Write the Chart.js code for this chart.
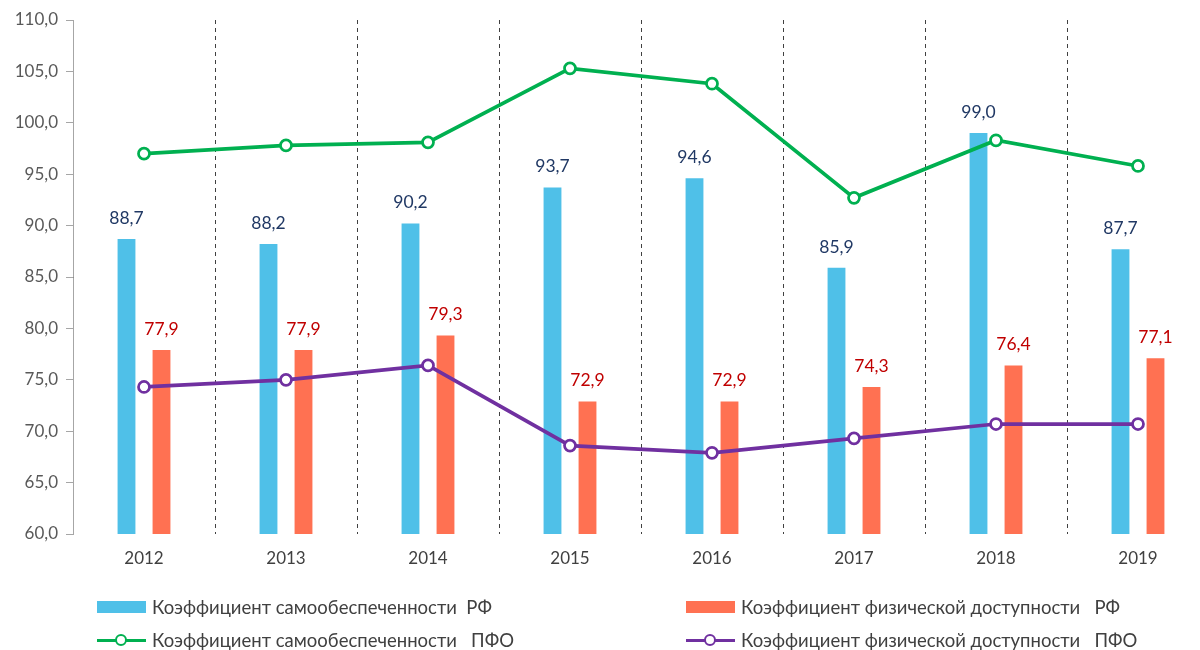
<!DOCTYPE html>
<html>
<head>
<meta charset="utf-8">
<script src="https://cdn.jsdelivr.net/npm/chart.js@4.4.1/dist/chart.umd.min.js"></script>
<style>
    html, body { margin: 0; padding: 0; background: #fff; }
    #wrap { position: relative; width: 1200px; height: 650px; overflow: hidden; }
    #chart { position: absolute; left: 0; top: 0; }
    .leg { position: absolute; display: flex; align-items: center; font-family: Lato, "Open Sans", sans-serif; font-size: 18.5px; color: #404040; white-space: pre; }
    .sw-bar { width: 49px; height: 12px; margin-right: 6px; }
    .sw-line { position: relative; width: 49px; height: 13px; margin-right: 6px; }
    .sw-line .ln { position: absolute; left: 0; right: 0; top: 5px; height: 3.5px; }
    .sw-line .pt { position: absolute; left: 18px; top: 0; width: 8px; height: 8px; border-radius: 50%; background: #fff; border: 2.5px solid; }
</style>
</head>
<body>
<div id="wrap">
    <canvas id="chart" width="1220" height="650"></canvas>
    <div id="legend"></div>
</div>
<script>
// Data
const years = ['2012', '2013', '2014', '2015', '2016', '2017', '2018', '2019'];
const selfRF = [88.7, 88.2, 90.2, 93.7, 94.6, 85.9, 99.0, 87.7];
const accessRF = [77.9, 77.9, 79.3, 72.9, 72.9, 74.3, 76.4, 77.1];
const selfPFO = [97.0, 97.8, 98.1, 105.3, 103.8, 92.7, 98.3, 95.8];
const accessPFO = [74.3, 75.0, 76.4, 68.6, 67.9, 69.3, 70.7, 70.7];

const labelSelfRF = 'Коэффициент самообеспеченности  РФ';
const labelAccessRF = 'Коэффициент физической доступности   РФ';
const labelSelfPFO = 'Коэффициент самообеспеченности   ПФО';
const labelAccessPFO = 'Коэффициент физической доступности   ПФО';

const FONT = 'Lato, "Open Sans", sans-serif';
const fmt = v => v.toFixed(1).replace('.', ',');

// Value labels above the bars
const barLabels = {
    id: 'barLabels',
    afterDatasetsDraw(chart) {
        const ctx = chart.ctx;
        ctx.save();
        ctx.font = '17.5px ' + FONT;
        ctx.textAlign = 'center';
        ctx.textBaseline = 'bottom';
        chart.data.datasets.forEach((ds, i) => {
            if (ds.type !== 'bar') return;
            ctx.fillStyle = ds.labelColor;
            chart.getDatasetMeta(i).data.forEach((bar, j) => {
                ctx.fillText(fmt(ds.data[j]), bar.x, bar.y - 12);
            });
        });
        ctx.restore();
    }
};

const chart = new Chart(document.getElementById('chart'), {
    data: {
        labels: years,
        datasets: [
            {
                type: 'bar',
                label: labelSelfRF,
                data: selfRF,
                backgroundColor: '#4FC0E8',
                labelColor: '#203864',
                order: 1,
                categoryPercentage: 0.493,
                barPercentage: 0.51
            },
            {
                type: 'bar',
                label: labelAccessRF,
                data: accessRF,
                backgroundColor: '#FF7152',
                labelColor: '#C00000',
                order: 1,
                categoryPercentage: 0.493,
                barPercentage: 0.51
            },
            {
                type: 'line',
                label: labelSelfPFO,
                data: selfPFO,
                borderColor: '#00B050',
                borderWidth: 3.75,
                pointRadius: 5.5,
                pointBorderWidth: 2.75,
                pointBackgroundColor: '#fff',
                pointBorderColor: '#00B050',
                tension: 0,
                order: 0
            },
            {
                type: 'line',
                label: labelAccessPFO,
                data: accessPFO,
                borderColor: '#7030A0',
                borderWidth: 3.75,
                pointRadius: 5.5,
                pointBorderWidth: 2.75,
                pointBackgroundColor: '#fff',
                pointBorderColor: '#7030A0',
                tension: 0,
                order: 0
            }
        ]
    },
    options: {
        responsive: false,
        animation: false,
        layout: {
            padding: { top: 20, right: 11, bottom: 0, left: 0 }
        },
        plugins: {
            legend: { display: false },
            tooltip: { enabled: false }
        },
        scales: {
            x: {
                offset: true,
                afterFit: s => { s.height = 116; },
                border: { display: false, dash: [4, 4] },
                grid: {
                    offset: true,
                    drawTicks: false,
                    color: '#404040',
                    lineWidth: 1
                },
                ticks: {
                    color: '#404040',
                    padding: 14,
                    font: { family: FONT, size: 17 }
                }
            },
            y: {
                min: 60,
                max: 110,
                afterFit: s => { s.width = 73; },
                border: { display: true, color: '#A6A6A6', width: 1 },
                grid: {
                    drawOnChartArea: false,
                    drawTicks: true,
                    tickLength: 7,
                    color: '#A6A6A6'
                },
                ticks: {
                    stepSize: 5,
                    color: '#595959',
                    padding: 8,
                    font: { family: FONT, size: 17 },
                    callback: v => fmt(v)
                }
            }
        }
    },
    plugins: [barLabels]
});

// Legend in two columns, built from the chart datasets
const legendPos = [
    { ds: 0, x: 97, y: 607 },
    { ds: 1, x: 686, y: 607 },
    { ds: 2, x: 97, y: 640 },
    { ds: 3, x: 686, y: 640 }
];
const legendEl = document.getElementById('legend');
legendPos.forEach(p => {
    const ds = chart.data.datasets[p.ds];
    const item = document.createElement('div');
    item.className = 'leg';
    item.style.left = p.x + 'px';
    item.style.top = (p.y - 12) + 'px';
    item.style.height = '24px';
    let sw;
    if (ds.type === 'bar') {
        sw = '<div class="sw-bar" style="background:' + ds.backgroundColor + '"></div>';
    } else {
        sw = '<div class="sw-line"><div class="ln" style="background:' + ds.borderColor + '"></div>' +
             '<div class="pt" style="border-color:' + ds.borderColor + '"></div></div>';
    }
    item.innerHTML = sw + '<span>' + ds.label + '</span>';
    legendEl.appendChild(item);
});
</script>
</body>
</html>
